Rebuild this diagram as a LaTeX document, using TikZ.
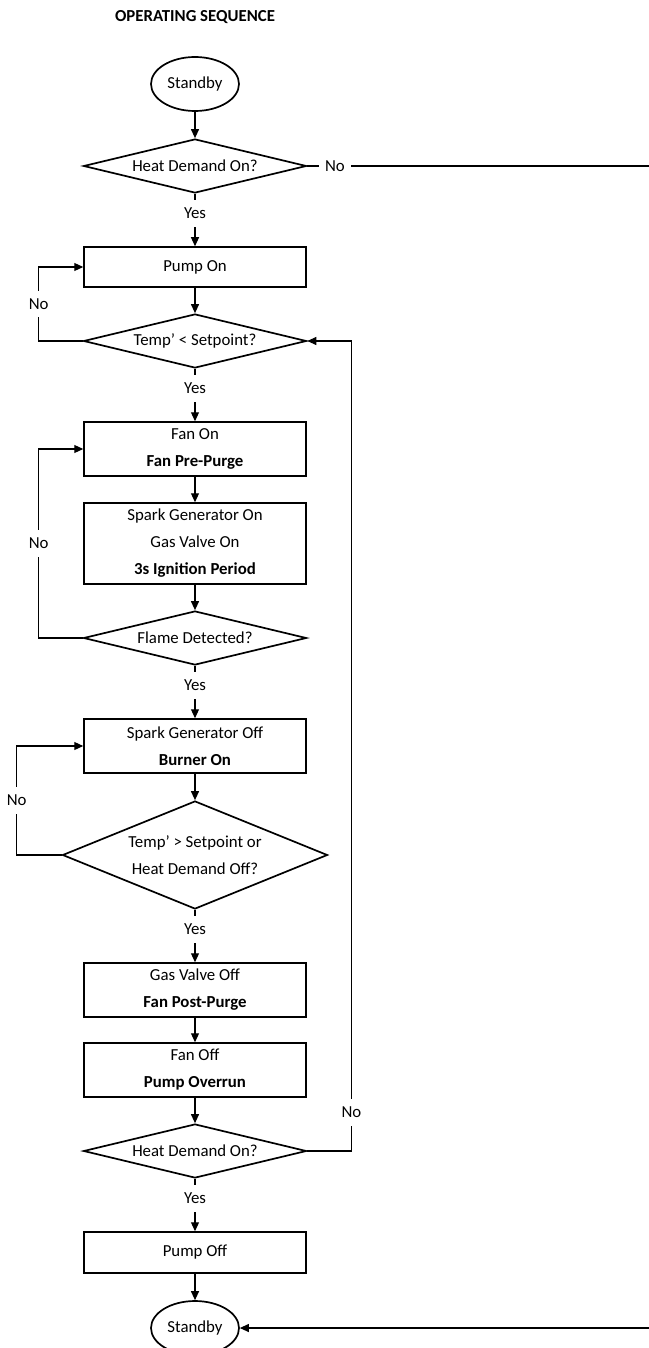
\documentclass[tikz,border=0pt]{standalone}
\usepackage{fontspec}
\setmainfont{Carlito}
\usepackage{tikz}
\usetikzlibrary{arrows.meta,positioning,calc,shapes.geometric}

\begin{document}
\begin{tikzpicture}[x=1pt,y=-1pt,
  every node/.style={font=\fontsize{16.8}{27}\selectfont},
  box/.style={draw,line width=1.5pt,align=center,inner sep=0pt,minimum width=222pt,minimum height=40pt},
  dec/.style={draw,diamond,aspect=4.13,line width=1.7pt,align=center,inner sep=0pt,minimum width=223pt,minimum height=54pt},
  term/.style={draw,ellipse,line width=1.7pt,inner sep=0pt,minimum width=88pt,minimum height=54pt},
  lbl/.style={fill=white,inner xsep=5pt,inner ysep=8pt},
  ar/.style={-{Triangle[length=9pt,width=8pt]},line width=1.1pt}]
\useasboundingbox (0,0) rectangle (648,1348);
\node (title) at (195,17) {\textbf{OPERATING SEQUENCE}};
\node[term] (s0) at (195,84) {Standby};
\node[dec] (d1) at (195,166) {Heat Demand On?};
\node[box] (p1) at (195,267) {Pump On};
\node[dec] (d2) at (195,341) {Temp’ < Setpoint?};
\node[box,minimum height=54pt] (p2) at (195,449) {Fan On\\\textbf{Fan Pre-Purge}};
\node[box,minimum height=81pt] (p3) at (195,543.5) {Spark Generator On\\Gas Valve On\\\textbf{3s Ignition Period}};
\node[dec] (d3) at (195,638) {Flame Detected?};
\node[box,minimum height=54pt] (p4) at (195,746) {Spark Generator Off\\\textbf{Burner On}};
\node[dec,aspect=2.45,minimum width=265pt,minimum height=108pt] (d4) at (195,855) {Temp’ > Setpoint or\\Heat Demand Off?};
\node[box,minimum height=54pt] (p5) at (195,990) {Gas Valve Off\\\textbf{Fan Post-Purge}};
\node[box,minimum height=54pt] (p6) at (195,1070) {Fan Off\\\textbf{Pump Overrun}};
\node[dec] (d5) at (195,1151) {Heat Demand On?};
\node[box,minimum height=41pt] (p7) at (195,1252.5) {Pump Off};
\node[term] (s1) at (195,1328) {Standby};
\coordinate (rtop) at (652,166);
% straight flow
\foreach \a/\b in {s0/d1,p1/d2,p2/p3,p3/d3,p4/d4,p5/p6,p6/d5,p7/s1}
  \draw[ar] (\a) -- (\b);
\foreach \a/\b in {d1/p1,d2/p2,d3/p4,d4/p5,d5/p7}
  \draw[ar] (\a) -- node[lbl,pos=.37] {Yes} (\b);
% loops back
\draw[ar] (d2.west) -- ++(-44,0) |- node[lbl,pos=.25] {No} (p1.west);
\draw[ar] (d3.west) -- ++(-44,0) |- node[lbl,pos=.25] {No} (p2.west);
\draw[ar] (d4.west) -- ++(-45,0) |- node[lbl,pos=.25] {No} (p4.west);
\draw[ar] (d5.east) -- ++(44,0) |- node[lbl,pos=.024] {No} (d2.east);
\draw[ar] (d1.east) -- node[lbl,pos=.08,inner xsep=6pt] {No} (rtop) |- (s1.east);
\end{tikzpicture}
\end{document}
